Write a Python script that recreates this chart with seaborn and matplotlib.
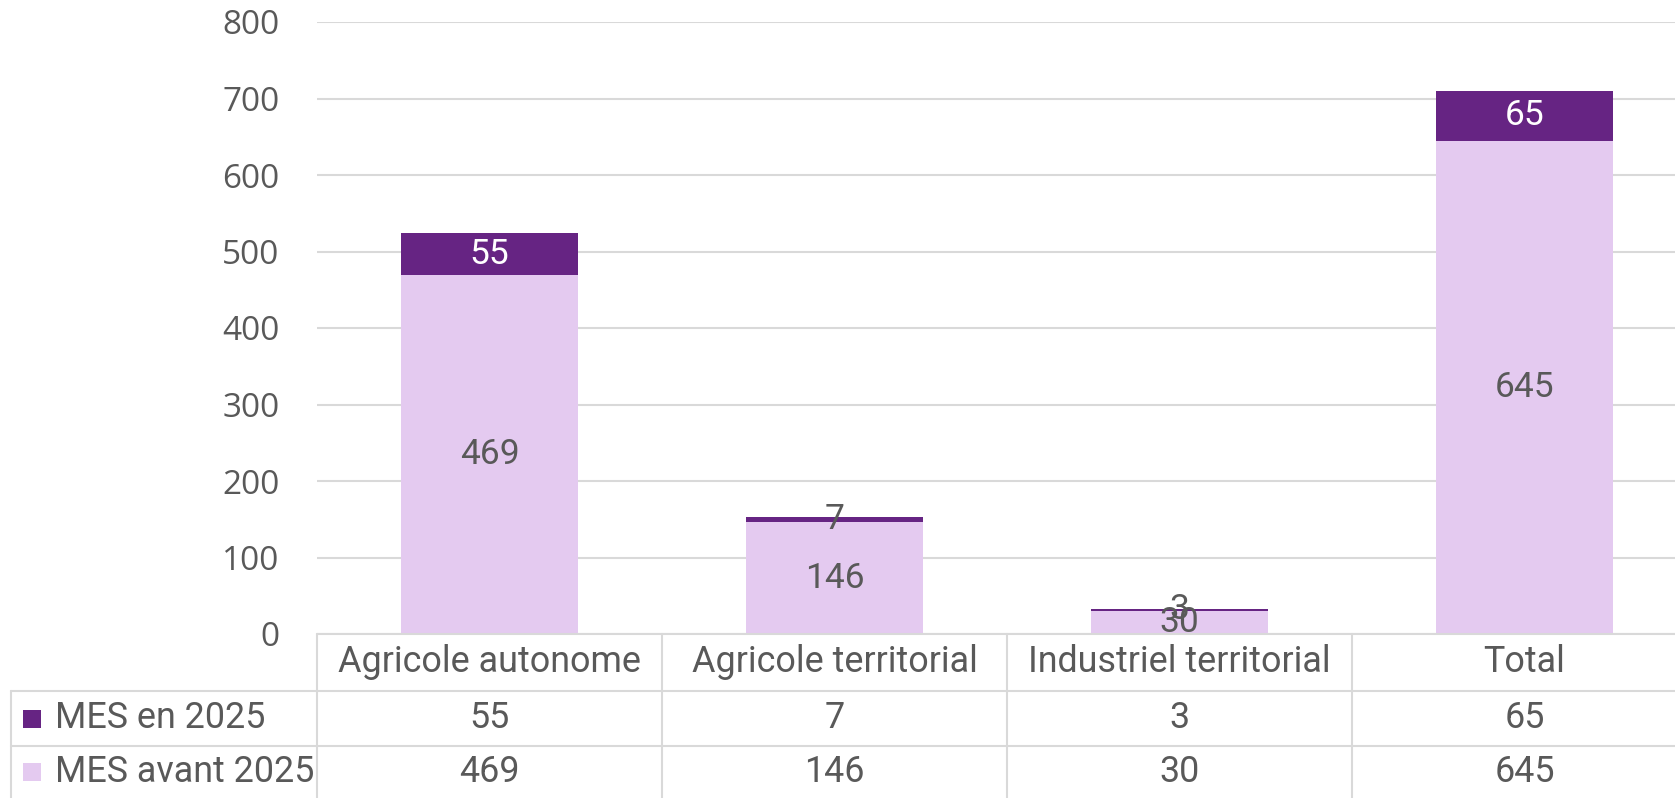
import matplotlib
matplotlib.use('Agg')
import matplotlib.pyplot as plt
from matplotlib.patches import Rectangle
import seaborn as sns
import pandas as pd

#%% Data
categories = ['Agricole autonome', 'Agricole territorial',
              'Industriel territorial', 'Total']
mes_avant_2025 = [469, 146, 30, 645]
mes_en_2025 = [55, 7, 3, 65]
series_names = ['MES en 2025', 'MES avant 2025']
y_ticks = [0, 100, 200, 300, 400, 500, 600, 700, 800]

#%% Styles
dark = '#662483'
light = '#E4CAF0'
grey_text = '#595959'
grid_col = '#D9D9D9'

df = pd.DataFrame({'cat': categories,
                   'avant': mes_avant_2025,
                   'en': mes_en_2025})
df['total'] = df['avant'] + df['en']

sns.set_theme(style='white')
plt.rcParams['font.family'] = ['Open Sans', 'DejaVu Sans']
table_font = ['Roboto', 'DejaVu Sans']

W, H = 1675, 798
n = len(categories)
col_w = 345                  # pixels per category column
x0 = 317                     # left edge of the plot area
fig = plt.figure(figsize=(W / 100, H / 100), dpi=100)
# plot area in pixels: x 317..(runs past right edge), y 22..634
ax = fig.add_axes([x0 / W, (H - 634) / H, n * col_w / W, (634 - 22) / H])

# stacked bars: full total in dark, lower part in light on top
sns.barplot(data=df, x='cat', y='total', order=categories, color=dark,
            saturation=1, width=0.515, errorbar=None, ax=ax, linewidth=0)
sns.barplot(data=df, x='cat', y='avant', order=categories, color=light,
            saturation=1, width=0.515, errorbar=None, ax=ax, linewidth=0)

ax.set_xlim(-0.5, n - 0.5)
ax.set_ylim(0, 800)
ax.set_yticks(y_ticks)
ax.set_yticklabels([str(t) for t in y_ticks])
ax.tick_params(axis='y', length=0, pad=27, labelsize=24, labelcolor=grey_text)
ax.set_xticks([])
ax.set_xlabel('')
ax.set_ylabel('')
for s in ax.spines.values():
    s.set_visible(False)
ax.yaxis.grid(True, color=grid_col, linewidth=1.5)
ax.set_axisbelow(True)

# data labels
ax.bar_label(ax.containers[1], labels=[str(v) for v in mes_avant_2025],
             label_type='center', fontsize=25.5, color=grey_text,
             family=table_font)
for i, (a, e) in enumerate(zip(mes_avant_2025, mes_en_2025)):
    col = 'white' if e >= 20 else grey_text
    ax.text(i, a + e / 2, str(e), ha='center', va='center', fontsize=25.5,
            color=col, family=table_font)

#%% Data table below the chart
tab = fig.add_axes([x0 / W, 0, n * col_w / W, (H - 634) / H])
tab.set_xlim(-0.5, n - 0.5)
tab.set_ylim(0, H - 634)
tab.axis('off')

left_x = -0.5 - (x0 - 11) / col_w
row_top, row1, row2 = H - 634, H - 691, H - 746
lw = 1.5

tab.plot([-0.5, n - 0.5], [row_top, row_top], color=grid_col, lw=lw, clip_on=False)
for yy in (row1, row2):
    tab.plot([left_x, n - 0.5], [yy, yy], color=grid_col, lw=lw, clip_on=False)
for i in range(n):
    tab.plot([i - 0.5, i - 0.5], [0, row_top], color=grid_col, lw=lw, clip_on=False)
tab.plot([left_x, left_x], [0, row1], color=grid_col, lw=lw, clip_on=False)

y_head = (row_top + row1) / 2
y_r1 = (row1 + row2) / 2
y_r2 = row2 / 2
for i, c in enumerate(categories):
    tab.text(i, y_head, c, ha='center', va='center', fontsize=25.8,
             color=grey_text, family=table_font)
    tab.text(i, y_r1, str(mes_en_2025[i]), ha='center', va='center',
             fontsize=25.8, color=grey_text, family=table_font)
    tab.text(i, y_r2, str(mes_avant_2025[i]), ha='center', va='center',
             fontsize=25.8, color=grey_text, family=table_font)

sq = 18
for name, yy, col in zip(series_names, (y_r1, y_r2), (dark, light)):
    tab.add_patch(Rectangle((left_x + (23 - 11) / col_w, yy - sq / 2), sq / col_w, sq,
                            facecolor=col, edgecolor='none', clip_on=False))
    tab.text(left_x + (55 - 11) / col_w, yy, name, ha='left', va='center',
             fontsize=25.8, color=grey_text, family=table_font)

fig.savefig('out.png', dpi=100)
